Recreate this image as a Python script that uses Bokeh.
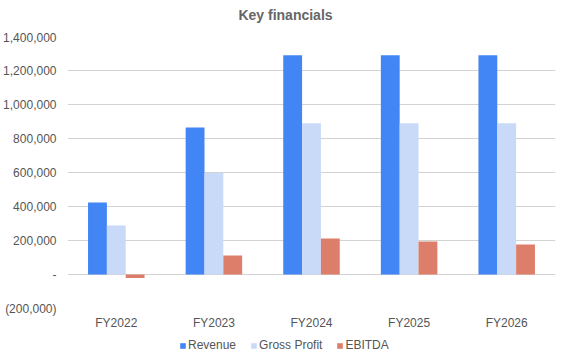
from bokeh.plotting import figure
from bokeh.models import ColumnDataSource, FactorRange, Range1d, FixedTicker, Legend, LegendItem, Div
from bokeh.layouts import column
from bokeh.transform import dodge
from bokeh.embed import file_html
from bokeh.resources import INLINE

years = ["FY2022", "FY2023", "FY2024", "FY2025", "FY2026"]
revenue = [424000, 865000, 1289000, 1289000, 1289000]
gross_profit = [288000, 597000, 889000, 889000, 889000]
ebitda = [-20000, 112000, 212000, 194000, 176000]
series_names = ["Revenue", "Gross Profit", "EBITDA"]
series_colors = ["#4285F4", "#C9DAF8", "#DD7E6B"]
y_ticks = [-200000, 0, 200000, 400000, 600000, 800000, 1000000, 1200000, 1400000]
y_tick_labels = ["(200,000)", "-", "200,000", "400,000", "600,000", "800,000",
                 "1,000,000", "1,200,000", "1,400,000"]
title_text = "Key financials"

source = ColumnDataSource(dict(years=years, revenue=revenue, gp=gross_profit, ebitda=ebitda))
cols = ["revenue", "gp", "ebitda"]
w = 0.193
offs = [-w, 0, w]

title_div = Div(text=title_text, width=557, height=30, margin=0,
                styles={"font-family": "Liberation Sans", "font-size": "14px",
                        "font-weight": "bold", "color": "#666666",
                        "text-align": "center", "line-height": "30px",
                        "padding-left": "14px"})

p = figure(width=557, height=305, output_backend="svg", toolbar_location=None,
           x_range=FactorRange(*years, range_padding=0),
           y_range=Range1d(-200000, 1400000),
           min_border_left=62, min_border_right=2, min_border_top=6, min_border_bottom=27)
p.outline_line_color = None

for c, o, col in zip(cols, offs, series_colors):
    p.vbar(x=dodge("years", o, range=p.x_range), top=c, bottom=0, width=w,
           source=source, fill_color=col, line_color=None)

p.yaxis.ticker = FixedTicker(ticks=y_ticks)
p.yaxis.major_label_overrides = {t: l for t, l in zip(y_ticks, y_tick_labels)}
for ax in (p.xaxis, p.yaxis):
    ax.axis_line_color = None
    ax.major_tick_line_color = None
    ax.minor_tick_line_color = None
    ax.major_label_text_font = "Liberation Sans"
    ax.major_label_text_font_size = "12px"
    ax.major_label_text_color = "#555555"
p.yaxis.major_label_standoff = 5
p.xaxis.major_label_standoff = 1

p.xgrid.grid_line_color = None
p.ygrid.grid_line_color = "#d3d3d3"
p.ygrid.ticker = FixedTicker(ticks=y_ticks)

# legend strip (bars themselves lie outside this strip's view; only their legend keys show)
lg = figure(width=557, height=23, output_backend="svg", toolbar_location=None,
            x_axis_type=None, y_axis_type=None,
            x_range=p.x_range, y_range=Range1d(2000000, 3000000),
            min_border_left=62, min_border_right=2, min_border_top=0, min_border_bottom=0)
lg.outline_line_color = None
lg.xgrid.grid_line_color = None
lg.ygrid.grid_line_color = None
keys = []
for c, o, col in zip(cols, offs, series_colors):
    keys.append(lg.vbar(x=dodge("years", o, range=lg.x_range), top=c, bottom=0, width=w,
                        source=source, fill_color=col, line_color=None))

legend = Legend(items=[LegendItem(label=n, renderers=[r]) for n, r in zip(series_names, keys)],
                orientation="horizontal", location=(112, 6),
                glyph_width=7, glyph_height=7, label_standoff=2, spacing=14,
                padding=0, margin=0, border_line_color=None, background_fill_alpha=0,
                label_text_font="Liberation Sans", label_text_font_size="12px",
                label_text_color="#555555", label_height=14)
lg.add_layout(legend, "center")

open("out.html", "w").write(file_html(column(title_div, p, lg, spacing=0), INLINE))
